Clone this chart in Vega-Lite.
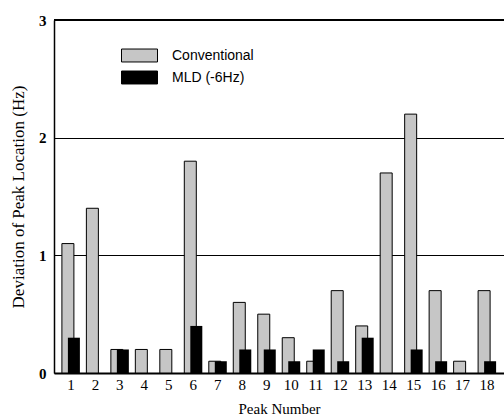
{
  "$schema": "https://vega.github.io/schema/vega-lite/v6.json",
  "autosize": "none",
  "width": 450,
  "height": 353,
  "padding": {"left": 54, "top": 20, "right": 0, "bottom": 46},
  "background": "white",
  "data": {
    "values": [
      {"peak": 1, "series": "Conventional", "dev": 1.1},
      {"peak": 2, "series": "Conventional", "dev": 1.4},
      {"peak": 3, "series": "Conventional", "dev": 0.2},
      {"peak": 4, "series": "Conventional", "dev": 0.2},
      {"peak": 5, "series": "Conventional", "dev": 0.2},
      {"peak": 6, "series": "Conventional", "dev": 1.8},
      {"peak": 7, "series": "Conventional", "dev": 0.1},
      {"peak": 8, "series": "Conventional", "dev": 0.6},
      {"peak": 9, "series": "Conventional", "dev": 0.5},
      {"peak": 10, "series": "Conventional", "dev": 0.3},
      {"peak": 11, "series": "Conventional", "dev": 0.1},
      {"peak": 12, "series": "Conventional", "dev": 0.7},
      {"peak": 13, "series": "Conventional", "dev": 0.4},
      {"peak": 14, "series": "Conventional", "dev": 1.7},
      {"peak": 15, "series": "Conventional", "dev": 2.2},
      {"peak": 16, "series": "Conventional", "dev": 0.7},
      {"peak": 17, "series": "Conventional", "dev": 0.1},
      {"peak": 18, "series": "Conventional", "dev": 0.7},
      {"peak": 1, "series": "MLD (-6Hz)", "dev": 0.3},
      {"peak": 3, "series": "MLD (-6Hz)", "dev": 0.2},
      {"peak": 6, "series": "MLD (-6Hz)", "dev": 0.4},
      {"peak": 7, "series": "MLD (-6Hz)", "dev": 0.1},
      {"peak": 8, "series": "MLD (-6Hz)", "dev": 0.2},
      {"peak": 9, "series": "MLD (-6Hz)", "dev": 0.2},
      {"peak": 10, "series": "MLD (-6Hz)", "dev": 0.1},
      {"peak": 11, "series": "MLD (-6Hz)", "dev": 0.2},
      {"peak": 12, "series": "MLD (-6Hz)", "dev": 0.1},
      {"peak": 13, "series": "MLD (-6Hz)", "dev": 0.3},
      {"peak": 15, "series": "MLD (-6Hz)", "dev": 0.2},
      {"peak": 16, "series": "MLD (-6Hz)", "dev": 0.1},
      {"peak": 18, "series": "MLD (-6Hz)", "dev": 0.1}
    ]
  },
  "config": {
    "view": {"stroke": null},
    "axis": {"labelFont": "Liberation Serif", "titleFont": "Liberation Serif", "labelColor": "black", "titleColor": "black", "domainColor": "black", "titleFontWeight": "normal"}
  },
  "layer": [
    {
      "mark": {"type": "rule", "color": "black", "strokeWidth": 2},
      "encoding": {"y": {"datum": 3, "type": "quantitative", "scale": {"domain": [0, 3], "nice": false}}}
    },
    {
      "transform": [{"filter": "datum.series == 'Conventional'"}],
      "mark": {"type": "bar", "width": 12, "xOffset": -3, "stroke": "black", "strokeWidth": 1},
      "encoding": {
        "x": {"field": "peak", "type": "ordinal", "scale": {"paddingInner": 0, "paddingOuter": 0.19},
          "axis": {"title": "Peak Number", "labelAngle": 0, "ticks": false, "labelPadding": 4, "labelFontSize": 15, "titleFontSize": 15, "titlePadding": 9, "domainWidth": 2}},
        "y": {"field": "dev", "type": "quantitative", "scale": {"domain": [0, 3], "nice": false},
          "axis": {"title": "Deviation of Peak Location (Hz)", "values": [0, 1, 2, 3], "format": "d", "ticks": false, "labelPadding": 8, "labelFontSize": 15, "labelFontWeight": "bold", "titleFontSize": 17, "titlePadding": 11, "domainWidth": 1.5, "grid": true, "gridColor": "black", "gridOpacity": 1, "gridWidth": 1}},
        "fill": {"field": "series", "type": "nominal",
          "scale": {"domain": ["Conventional", "MLD (-6Hz)"], "range": ["#c6c6c6", "#000000"]},
          "legend": {"title": null, "orient": "none", "legendX": 76, "legendY": 26, "symbolType": "M-2,-0.72H2V0.72H-2Z", "symbolSize": 324, "symbolStrokeColor": "black", "symbolStrokeWidth": 1, "labelFont": "Liberation Sans", "labelFontSize": 14, "labelColor": "black", "labelOffset": 23, "rowPadding": 4}}
      }
    },
    {
      "transform": [{"filter": "datum.series != 'Conventional'"}],
      "mark": {"type": "bar", "width": 12, "xOffset": 3, "fill": "black"},
      "encoding": {
        "x": {"field": "peak", "type": "ordinal"},
        "y": {"field": "dev", "type": "quantitative"}
      }
    }
  ]
}
